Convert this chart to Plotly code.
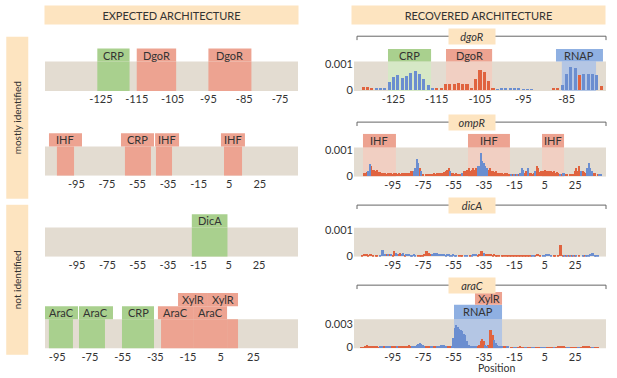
import plotly.graph_objects as go

W, H = 617, 378
FONT = "Lato"
TEXT = "#333333"
RED = "#e0633f"
BLUE = "#6b8ed0"
BAND = "#e3dcd1"
PEACH = "#fde4c0"
BOX = {"green": "#a9d08e", "salmon": "#eda391", "blue": "#8fb0e2"}
SHADE = {"green": "#d6e8c6", "salmon": "#f1cfc2", "blue": "#b4c6e4"}

# ------------------------------------------------------------------ data
WIDE_TICKS = [-95, -75, -55, -35, -15, 5, 25]
DGOR_EXP_TICKS = [-125, -115, -105, -95, -85, -75]
DGOR_REC_TICKS = [-125, -115, -105, -95, -85]

# expected architecture: (name, colour, row, label x0, label x1, stem x0, stem x1)
EXP_DGOR_SITES = [
    ("CRP", "green", 1, -126, -117, -126, -117),
    ("DgoR", "salmon", 1, -115, -104, -115, -104),
    ("DgoR", "salmon", 1, -95, -83, -95, -83),
]
EXP_OMPR_SITES = [
    ("IHF", "salmon", 1, -112.9, -91.3, -107.7, -96.5),
    ("CRP", "salmon", 1, -65.8, -44.2, -63.2, -46.2),
    ("IHF", "salmon", 1, -43.5, -27.8, -42.9, -32.4),
    ("IHF", "salmon", 1, -0.4, 15.3, 1.6, 13.4),
]
EXP_DICA_SITES = [
    ("DicA", "green", 1, -19.3, 4.2, -19.3, 4.2),
]
EXP_ARAC_SITES = [
    ("AraC", "green", 1, -102.5, -82.3, -100.1, -85.4),
    ("AraC", "green", 1, -81.7, -60.9, -81.7, -65.8),
    ("CRP", "green", 1, -55.4, -35.8, -55.4, -35.8),
    ("AraC", "salmon", 1, -33.4, -11.9, -31.5, -11.9),
    ("AraC", "salmon", 1, -11.9, 8.9, -11.9, 8.9),
    ("XylR", "salmon", 2, -21.1, -2.8, None, None),
    ("XylR", "salmon", 2, -2.8, 15.6, 8.9, 15.6),
]

# recovered architecture: (name, colour, row, label x0, label x1, shade x0, shade x1)
REC_DGOR_SITES = [
    ("CRP", "green", 1, -126.25, -116.3, -126.25, -116.3),
    ("DgoR", "salmon", 1, -112.85, -102.2, -112.85, -102.2),
    ("RNAP", "blue", 1, -87.45, -76.6, -86.1, -78.2),
]
REC_OMPR_SITES = [
    ("IHF", "salmon", 1, -114.6, -92.9, -114.6, -92.9),
    ("IHF", "salmon", 1, -45.5, -17.9, -45.5, -17.9),
    ("IHF", "salmon", 1, 3.2, 17.7, 3.2, 17.7),
]
REC_DICA_SITES = []
REC_ARAC_SITES = [
    ("RNAP", "blue", 1, -54.7, -23.1, -54.7, -23.1),
    ("XylR", "salmon", 2, -40.9, -23.1, None, None),
]

# per-position weights (units of 1e-4); strand code r = red, b = blue, - = none
REC_DGOR_START = -132
REC_DGOR_E4 = [
    1.0, 1.1, 0.8, 0.7, 0.7, 0.7, 3.0, 5.2, 5.8, 4.6,
    5.6, 6.6, 7.6, 6.2, 4.5, 1.8, 0.4, 0.4, 0.9, 2.2,
    2.3, 2.5, 2.7, 2.4, 2.4, 0.5, 4.5, 7.8, 7.2, 3.5,
    0.8, 0.3, 0.6, 0.8, 0.8, 0.5, 0.4, 0.3, 0.2, 0.2,
    0, 0, 0, 0, 0.4, 0.5, 2.0, 6.3, 9.0, 8.5,
    5.8, 6.5, 6.4, 6.2, 5.8, 1.5,
]
REC_DGOR_STRAND = "rrrbbbbbbb bbbbbbbrrr rrrrrrrrrr rbbbbbbbbb ----rrbbbb rbbbbr"

REC_OMPR_START = -114
REC_OMPR_E4 = [
    1.0, 1.2, 1.5, 2.0, 4.8, 4.0, 2.5, 2.2, 2.0, 2.5,
    1.5, 1.5, 1.2, 1.0, 1.0, 0.5, 1.0, 1.0, 1.0, 0.8,
    1.0, 1.0, 0.8, 1.0, 0.5, 1.0, 1.2, 1.0, 1.2, 1.0,
    1.2, 2.0, 1.8, 2.0, 3.0, 6.5, 5.0, 3.0, 2.0, 0.5,
    0, 0.5, 0.5, 0.6, 0.8, 0.8, 1.0, 0.8, 1.0, 1.0,
    1.0, 1.2, 1.0, 1.5, 2.0, 2.5, 3.0, 2.0, 1.0, 1.0,
    0.8, 1.0, 0.5, 0.5, 0.8, 1.0, 2.0, 2.0, 2.5, 3.0,
    2.0, 2.5, 3.0, 2.5, 3.0, 4.0, 4.0, 9.2, 6.0, 5.0,
    4.0, 3.0, 2.5, 3.0, 2.0, 2.0, 1.5, 2.0, 1.2, 1.0,
    1.0, 1.0, 0.8, 1.0, 1.0, 0.8, 0.8, 0.5, 0.8, 0.5,
    0.5, 0.5, 0.8, 1.0, 3.0, 2.5, 1.0, 2.0, 3.0, 1.0,
    1.0, 0.8, 1.0, 2.0, 4.0, 3.0, 1.5, 2.0, 2.0, 2.2,
    2.0, 2.0, 1.8, 2.0, 1.5, 1.8, 1.0, 1.5, 1.0, 0.8,
    0.5, 1.0, 1.0, 0.4, 0.4, 0, 0.4, 0.6, 0.8, 2.0,
    3.0, 2.0, 4.0, 2.0, 2.0, 1.5, 1.0, 3.0, 5.0, 3.0,
    2.0, 1.0, 1.0, 0, 0.8, 0.5, 0.5,
]
REC_OMPR_STRAND = ("rrrbbrrrrr rrrrrrrrrr rrrrrrrrrr rrrbbbbrbr -rrrrrrrrr "
                   "rrrrrrrbrr rrrrrbrrrr rrrrrbbbbb bbrrrrrrrr rrrrrrrbrb "
                   "rbrbbbrrbr rrrbrrrrrr rrrrrrrrrb rbbrr-rrrr rrrbrrrbbb brr-rbb")

REC_DICA_START = -115
REC_DICA_E4 = [
    0.5, 0.8, 1.0, 0.8, 0.5, 1.0, 0.8, 0.5, 0, 0.5,
    0.5, 0, 0.5, 2.5, 2.5, 1.0, 1.0, 1.0, 0.8, 1.0,
    0.5, 2.0, 1.2, 1.0, 0.8, 1.5, 1.0, 1.2, 0.5, 0.8,
    0.8, 0.8, 0.6, 0.5, 0.8, 0.5, 0, 0.3, 0.3, 0.5,
    0.5, 1.0, 2.0, 2.0, 1.5, 0.8, 1.0, 1.5, 1.5, 1.2,
    1.0, 0.8, 0.8, 1.0, 0.8, 0.6, 0.8, 0.8, 0.6, 0.5,
    0.8, 0.5, 0.3, 0, 0.5, 0.5, 0.3, 0, 0.3, 0.5,
    0, 0.3, 0.5, 1.0, 1.0, 0.8, 0.5, 1.0, 2.0, 2.2,
    1.5, 1.0, 0.8, 0.8, 1.0, 0.8, 0.5, 0.8, 0.5, 0.5,
    0.3, 0, 0.3, 0.5, 0.5, 0.5, 0.4, 0.5, 0.3, 0.5,
    0.5, 0.3, 0.5, 0.4, 0.3, 0.5, 0.4, 0.3, 0.5, 0.5,
    0.3, 0.3, 0.3, 0.3, 0.5, 1.0, 1.0, 0.5, 0, 0.3,
    0.5, 0.8, 1.0, 0.8, 0.5, 0, 0.3, 0.3, 0, 0.5,
    4.3, 4.3, 0.5, 0.3, 0.3, 0.3, 0.3, 0.3, 0.3, 0.3,
    0.3, 0.3, 0, 0.3, 0, 0.3, 0.3, 0.3, 0.3, 0.5,
    1.0, 1.5, 1.2, 0.5, 0.3, 0.3, 0, 0,
]
REC_DICA_STRAND = ("rrrrrrrr-r r-bbbbrbrb rrbbrrbbrb bbbbbb-rrr rrrrrrbbbb "
                   "bbbbbbbbbb bbb-rrr-bb -rbbbbrrrr brrrrrrrrr r-rrrrrrrr "
                   "rrrrrrrrrr rrbbrrrr-b bbbbb-rr-r rrrbrbrbrb rb-r-brbbb bbbbbb--")

REC_ARAC_START = -118
REC_ARAC_E4 = [
    0, 0, 0.5, 0.5, 0.5, 2.0, 4.0, 1.0, 1.0, 1.0,
    1.0, 1.5, 1.0, 1.0, 0.5, 1.0, 1.0, 1.0, 1.0, 1.0,
    1.0, 1.5, 1.5, 1.0, 1.0, 1.5, 1.0, 1.5, 2.0, 2.0,
    2.0, 2.5, 2.0, 2.5, 3.0, 2.0, 1.5, 1.5, 2.0, 3.0,
    5.0, 6.0, 5.0, 3.0, 2.0, 1.0, 1.5, 1.0, 1.0, 1.5,
    1.0, 1.0, 1.0, 1.5, 2.0, 3.0, 4.0, 3.5, 2.0, 1.5,
    1.0, 1.0, 2.0, 12, 25, 29, 27, 24, 23, 21,
    17, 16, 8, 3, 2, 1.5, 1.0, 1.5, 1.0, 2.0,
    4, 9, 11, 8, 3, 2, 3, 23, 22, 16,
    10, 6, 4, 2, 1, 1, 1, 1, 1, 1,
    0, 0.5, 0.5, 0.5, 0.5, 0.5, 0.5, 1.0, 0.5, 0.5,
    0.5, 0.5, 0.5, 0.5, 0.5, 0.5, 0.5, 0.5, 0.5, 0.5,
    0.5, 0.5, 0.5, 0.5, 0.5, 0.5, 0.5, 0.5, 0.5, 0.5,
    0.5, 0.5, 1.0, 1.5, 2.0, 1.5, 1.0, 0.5, 0.5, 0.5,
    0.5, 0.5, 0.5, 0.5, 0.5, 0.5, 0.5, 0.5, 1.0, 1.5,
    1.5, 1.0, 1.0, 0.5, 0.5, 0.5, 0.5, 0.5, 0.5, 0,
    0, 0, 0,
]
REC_ARAC_STRAND = ("--rrrrrrrr rrrrrbbrrb bbrrrrbrrr rrrrrrbbbb bbbbbrrrbb "
                   "rrbbbbbbbr rrbbbbbbbb bbbbbbbbbr rrrrbbrrrr bbbbbbrrbb "
                   "-rrbbrrrrr bbrrrbbrrr rbbbrrrrrb rrrrrrrrbb rrrrrbbrrr rrrrbbrrr- ---")


# ------------------------------------------------------------------ helpers
def fx(px):
    return px / W


def fy(py):
    return 1 - py / H


def split_strands(start, values, strand):
    codes = strand.replace(" ", "")
    assert len(codes) == len(values), (len(codes), len(values))
    out = {"r": ([], []), "b": ([], [])}
    for i, (v, c) in enumerate(zip(values, codes)):
        if c in out and v > 0:
            out[c][0].append(start + i)
            out[c][1].append(v * 1e-4)
    return out


def ax_names(i):
    return ("x" if i == 1 else f"x{i}", "y" if i == 1 else f"y{i}",
            "xaxis" if i == 1 else f"xaxis{i}", "yaxis" if i == 1 else f"yaxis{i}")


fig = go.Figure()
layout = {}
shapes = []
annotations = []
tickfont = dict(family=FONT, size=11, color=TEXT)


def rect(xref, yref, x0, x1, y0, y1, color):
    shapes.append(dict(type="rect", xref=xref, yref=yref, x0=x0, x1=x1, y0=y0, y1=y1,
                       fillcolor=color, line=dict(width=0), layer="below"))


def label(xref, yref, x, y, text, size=11):
    annotations.append(dict(xref=xref, yref=yref, x=x, y=y, text=text, showarrow=False,
                            font=dict(family=FONT, size=size, color=TEXT),
                            xanchor="center", yanchor="middle"))


# ------------------------------------------------------------------ left (expected)
ROW_H = 0.45
left = [
    (1, [-140.6, -70.0], DGOR_EXP_TICKS, EXP_DGOR_SITES, 89),
    (2, [-115.5, 50.0], WIDE_TICKS, EXP_OMPR_SITES, 176),
    (3, [-116.1, 50.7], WIDE_TICKS, EXP_DICA_SITES, 259),
    (4, [-102.5, 52.3], WIDE_TICKS, EXP_ARAC_SITES, 353),
]
for i, xr, ticks, sites, bot in left:
    xr_, yr_, xa, ya = ax_names(i)
    layout[xa] = dict(domain=[fx(45), fx(298)], range=xr, anchor=yr_, tickvals=ticks,
                      ticktext=[str(t) for t in ticks], showgrid=False, zeroline=False,
                      showline=False, ticks="", tickfont=tickfont, fixedrange=True)
    layout[ya] = dict(domain=[fy(bot), fy(bot - 57)], range=[0, 1.9], anchor=xr_,
                      visible=False, fixedrange=True)
    fig.add_trace(go.Scatter(x=[xr[0]], y=[0], mode="markers", marker=dict(opacity=0),
                             xaxis=xr_, yaxis=yr_, hoverinfo="skip", showlegend=False))
    rect(xr_, yr_, xr[0], xr[1], 0, 1, BAND)
    for name, col, row, lx0, lx1, sx0, sx1 in sites:
        y0 = 1 + (row - 1) * ROW_H
        y1 = y0 + ROW_H
        rect(xr_, yr_, lx0, lx1, y0, y1, BOX[col])
        if sx0 is not None:
            rect(xr_, yr_, sx0, sx1, 0, 1, BOX[col])
        label(xr_, yr_, (lx0 + lx1) / 2, (y0 + y1) / 2, name)

# ------------------------------------------------------------------ right (recovered)
# geometry in pixels: domain top, domain bottom, zero line, px per unit, band top, rows
right = [
    (5, [-134.1, -75.9], DGOR_REC_TICKS, REC_DGOR_START, REC_DGOR_E4, REC_DGOR_STRAND,
     REC_DGOR_SITES, (46, 89, 88, 26000, 59, [(46, 59)]), [0, 0.001], ["0", "0.001"], 0.7),
    (6, [-120.5, 45.3], WIDE_TICKS, REC_OMPR_START, REC_OMPR_E4, REC_OMPR_STRAND,
     REC_OMPR_SITES, (133, 177, 176, 26000, 147, [(133, 147)]), [0, 0.001], ["0", "0.001"], 0.95),
    (7, [-120.5, 45.3], WIDE_TICKS, REC_DICA_START, REC_DICA_E4, REC_DICA_STRAND,
     REC_DICA_SITES, (229, 259, 258, 26000, 229, []), [0, 0.001], ["0", "0.001"], 0.95),
    (8, [-120.5, 45.3], WIDE_TICKS, REC_ARAC_START, REC_ARAC_E4, REC_ARAC_STRAND,
     REC_ARAC_SITES, (295, 353, 352, 8000, 323, [(308, 323), (295, 308)]), [0, 0.003], ["0", "0.003"], 0.95),
]
for i, xr, ticks, start, vals, strand, sites, geo, ytv, ytt, bw in right:
    xr_, yr_, xa, ya = ax_names(i)
    top, bot, zero, ppu, band_top, rows = geo

    def val(py, zero=zero, ppu=ppu):
        return (zero - py) / ppu

    layout[xa] = dict(domain=[fx(354), fx(606)], range=xr, anchor=yr_, tickvals=ticks,
                      ticktext=[str(t) for t in ticks], showgrid=False, zeroline=False,
                      showline=False, ticks="", tickfont=tickfont, fixedrange=True)
    layout[ya] = dict(domain=[fy(bot), fy(top)], range=[val(bot), val(top)], anchor=xr_,
                      tickvals=ytv, ticktext=ytt, showgrid=False, zeroline=False,
                      showline=False, ticks="", tickfont=tickfont, fixedrange=True)
    rect(xr_, yr_, xr[0], xr[1], val(bot), val(band_top), BAND)
    for name, col, row, lx0, lx1, sx0, sx1 in sites:
        rb, rt = rows[row - 1][1], rows[row - 1][0]
        if sx0 is not None:
            rect(xr_, yr_, sx0, sx1, val(bot), val(band_top), SHADE[col])
        rect(xr_, yr_, lx0, lx1, val(rb), val(rt), BOX[col])
        label(xr_, yr_, (lx0 + lx1) / 2, val((rb + rt) / 2), name)
    parts = split_strands(start, vals, strand)
    for code, color in (("r", RED), ("b", BLUE)):
        xs, ys = parts[code]
        fig.add_trace(go.Bar(x=xs, y=ys, width=bw, marker=dict(color=color, line=dict(width=0)),
                             xaxis=xr_, yaxis=yr_, showlegend=False, hoverinfo="skip"))

# ------------------------------------------------------------------ headers, brackets
def boxed(xc, yc, w, h, text, angle=0, size=11):
    annotations.append(dict(xref="paper", yref="paper", x=fx(xc), y=fy(yc), text=text,
                            showarrow=False, bgcolor=PEACH, width=w, height=h, borderpad=0,
                            textangle=angle, xanchor="center", yanchor="middle",
                            font=dict(family=FONT, size=size, color=TEXT)))


boxed(171.5, 11, 253, 18, "EXPECTED ARCHITECTURE")
boxed(478.5, 11, 253, 18, "RECOVERED ARCHITECTURE")
boxed(17.5, 116.5, 161, 21, "mostly identified", angle=-90, size=10)
boxed(17.5, 282.5, 149, 21, "not identified", angle=-90, size=10)

GENES = ["dgoR", "ompR", "dicA", "araC"]
for gene, yline in zip(GENES, [33, 121, 206, 288]):
    for x0, y0, x1, y1 in [(357, yline, 606, yline), (357, yline, 357, yline + 4),
                           (606, yline, 606, yline + 4)]:
        shapes.append(dict(type="line", xref="paper", yref="paper", x0=fx(x0), y0=fy(y0),
                           x1=fx(x1), y1=fy(y1), line=dict(color="#666666", width=1)))
    boxed(472, yline + 0.5, 46, 15, f"<i>{gene}</i>")

label("paper", "paper", fx(496), fy(372.5), "Position", size=10.5)

layout.update(dict(width=W, height=H, margin=dict(l=0, r=0, t=0, b=0),
                   paper_bgcolor="white", plot_bgcolor="rgba(0,0,0,0)",
                   barmode="overlay", bargap=0, showlegend=False,
                   shapes=shapes, annotations=annotations,
                   font=dict(family=FONT, size=11, color=TEXT)))
fig.update_layout(**layout)
fig.write_html("out.html", config={"displayModeBar": False},
               post_script="document.body.style.margin='0';document.body.style.overflow='hidden';")
